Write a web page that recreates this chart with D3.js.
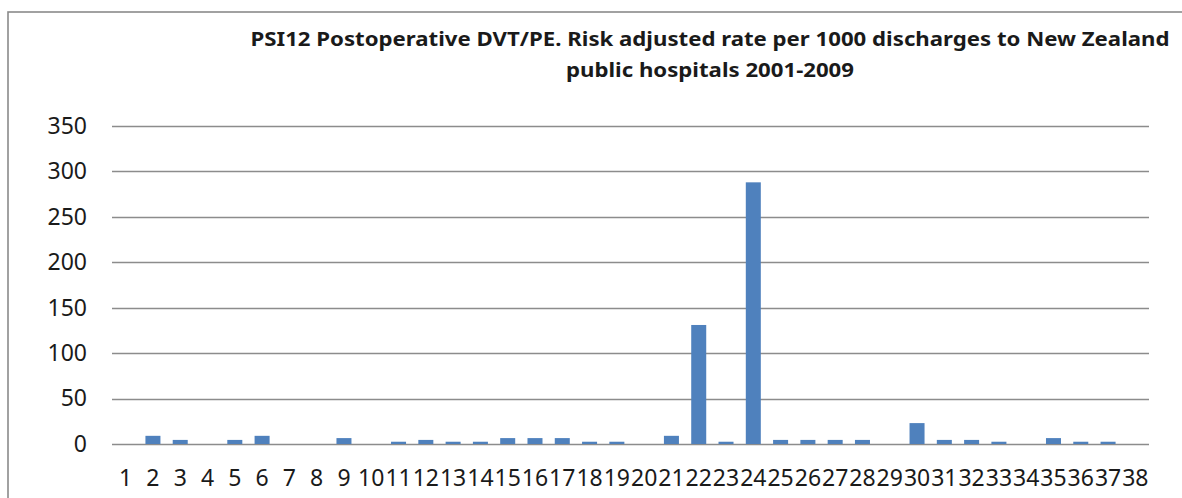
<!DOCTYPE html>
<html>
<head>
<meta charset="utf-8">
<script src="https://cdnjs.cloudflare.com/ajax/libs/d3/7.8.5/d3.min.js"></script>
<style>
  html, body { margin: 0; padding: 0; background: #fff; }
  svg { display: block; }
  text { font-family: "Noto Sans", "Open Sans", sans-serif; fill: #1a1a1a; }
</style>
</head>
<body>
<svg id="chart" width="1182" height="498"></svg>
<script>
// Hospital numbers along the x axis
const hospitals = d3.range(1, 39).map(String);

// Risk adjusted PSI12 rate per 1000 discharges, one value per hospital
const rates = [0, 9, 4.5, 0, 4.5, 9, 0, 0, 6.5, 0,
               2.5, 4.5, 2.5, 2.5, 6.5, 6.5, 6.5, 2.5, 2.5, 0,
               9, 131, 2.5, 288, 4.5, 4.5, 4.5, 4.5, 0, 23,
               4.5, 4.5, 2.5, 0, 6.5, 2.5, 2.5, 0];

// Value axis ticks
const yTicks = [0, 50, 100, 150, 200, 250, 300, 350];

const titleLines = [
  "PSI12 Postoperative DVT/PE. Risk adjusted rate per 1000 discharges to New Zealand",
  "public hospitals 2001-2009"
];

const svg = d3.select("#chart");

// Chart area frame
svg.append("rect")
  .attr("x", 8).attr("y", 12)
  .attr("width", 1200).attr("height", 520)
  .attr("fill", "#fff")
  .attr("stroke", "#8a8a8a")
  .attr("stroke-width", 1.6);

const plot = { left: 112, right: 1149, top: 126, bottom: 444 };

const x = d3.scaleBand()
  .domain(hospitals)
  .range([plot.left, plot.right])
  .paddingInner(0.45)
  .paddingOuter(0.225);

const y = d3.scaleLinear()
  .domain([0, 350])
  .range([plot.bottom, plot.top]);

// Horizontal gridlines
svg.append("g")
  .selectAll("line")
  .data(yTicks)
  .join("line")
  .attr("x1", plot.left).attr("x2", plot.right)
  .attr("y1", d => Math.round(y(d)) + 0.5)
  .attr("y2", d => Math.round(y(d)) + 0.5)
  .attr("stroke", "#8c8c8c")
  .attr("stroke-width", 1.3);

// Value axis labels
const yAxis = d3.axisLeft(y).tickValues(yTicks).tickSize(0).tickPadding(0);
svg.append("g")
  .attr("transform", `translate(${plot.left - 25},0)`)
  .call(yAxis)
  .call(g => g.select(".domain").remove())
  .selectAll("text")
  .attr("font-size", 23)
  .attr("font-family", "Noto Sans")
  .attr("fill", "#1a1a1a");

// Bars
svg.append("g")
  .selectAll("rect")
  .data(rates.map((v, i) => ({ h: hospitals[i], v })))
  .join("rect")
  .filter(d => d.v > 0)
  .attr("x", d => x(d.h))
  .attr("width", x.bandwidth())
  .attr("y", d => y(d.v))
  .attr("height", d => y(0) - y(d.v))
  .attr("fill", "#4f81bd");

// Category axis labels
const xAxis = d3.axisBottom(x).tickSize(0).tickPadding(0);
svg.append("g")
  .attr("transform", `translate(0,${plot.bottom + 26})`)
  .call(xAxis)
  .call(g => g.select(".domain").remove())
  .selectAll("text")
  .attr("font-size", 23)
  .attr("font-family", "Noto Sans")
  .attr("fill", "#1a1a1a");

// Title
const titleWidths = [919, 288];
svg.append("g")
  .selectAll("text")
  .data(titleLines)
  .join("text")
  .attr("x", 710)
  .attr("y", (d, i) => 46 + i * 31)
  .attr("text-anchor", "middle")
  .attr("font-size", 20)
  .attr("font-weight", "bold")
  .attr("textLength", (d, i) => titleWidths[i])
  .attr("lengthAdjust", "spacingAndGlyphs")
  .text(d => d);
</script>
</body>
</html>
